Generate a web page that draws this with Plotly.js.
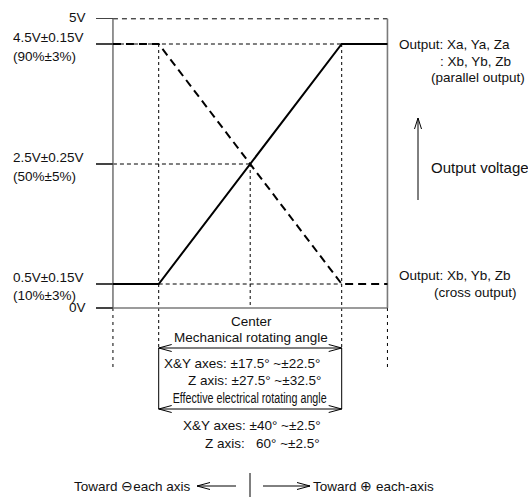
<!DOCTYPE html>
<html><head><meta charset="utf-8">
<script src="https://cdn.plot.ly/plotly-3.0.1.min.js"></script>
<style>html,body{margin:0;padding:0;background:#fff}#chart{width:528px;height:497px}</style>
</head><body><div id="chart"></div>
<script>
// ---- data ----
const angleDeg = [-30, -20, 20, 30];          // schematic angle stops: left limit, knees, right limit
const parallelOut = [0.5, 0.5, 4.5, 4.5];     // Output Xa, Ya, Za (V)
const crossOut = [4.5, 4.5, 0.5, 0.5];        // Output Xb, Yb, Zb cross output (V)
const levelPos = [0.1, 0.5, 2.5, 4.5, 4.92];  // schematic positions of the voltage levels (0V / 5V not to scale)
const levelMain = ['0V', '0.5V±0.15V', '2.5V±0.25V', '4.5V±0.15V', '5V'];
const levelSub = ['', '(10%±3%)', '(50%±5%)', '(90%±3%)', ''];

// ---- layout mapping ----
const W = 528, H = 497, CX = 250.2, KX = 4.575, Y0 = 314, KY = 60;
const xr = [(0 - CX) / KX, (W - CX) / KX];
const yr = [(Y0 - H) / KY, Y0 / KY];
const px = p => (p - CX) / KX;
const py = p => (Y0 - p) / KY;

const FONT = 'Liberation Sans, Arial, Helvetica, sans-serif';
const traces = [];
function seg(xs, ys, color, width, dash) {
  traces.push({x: xs, y: ys, mode: 'lines', hoverinfo: 'skip', showlegend: false,
    line: {color: color, width: width, dash: dash || 'solid'}});
}
function chev(xt, yt, dir, L, Wd) {
  const l = L, w = Wd;
  let xs, ys;
  if (dir === 'left') { xs = [xt + l / KX, xt, xt + l / KX]; ys = [yt + w / KY, yt, yt - w / KY]; }
  else if (dir === 'right') { xs = [xt - l / KX, xt, xt - l / KX]; ys = [yt + w / KY, yt, yt - w / KY]; }
  else { xs = [xt - w / KX, xt, xt + w / KX]; ys = [yt - l / KY, yt, yt - l / KY]; }
  seg(xs, ys, '#000', 1);
}

const xL = angleDeg[0], kL = angleDeg[1], kR = angleDeg[2], xR = angleDeg[3];
const v0 = levelPos[0], vLo = levelPos[1], vMid = levelPos[2], vHi = levelPos[3], v5 = levelPos[4];
const GRAY = '#7a7a7a';

// guide lines
seg([xL, xR], [v5, v5], '#000', 1, '5px,4px');
seg([xL, kR], [vHi, vHi], '#000', 1, '4px,3px');
seg([xL, 0], [vMid, vMid], '#000', 1, '4px,3px');
seg([kL, kR], [vLo, vLo], '#000', 1, '4px,3px');
const yMech = py(348), yElec = py(409), yExt = py(368);
seg([kL, kL], [vHi, yMech], '#000', 1, '3px,3px');
seg([kR, kR], [vHi, yMech], '#000', 1, '3px,3px');
seg([0, 0], [vMid, v0], '#000', 1, '3px,3px');
seg([xL, xL], [v0, yExt], '#000', 1, '3px,4px');
seg([xR, xR], [v0, yExt], '#000', 1, '3px,4px');
// axes frame
seg([xL, xL], [v0, v5], GRAY, 1.6);
seg([xR, xR], [v0, v5], GRAY, 1.6);
seg([xL, xR], [v0, v0], GRAY, 1.6);

// angle box + arrows
seg([kL, kL], [yMech, yElec], '#000', 1);
seg([kR, kR], [yMech, yElec], '#000', 1);
seg([kL, kR], [yMech, yMech], '#000', 1);
seg([kL, kR], [yElec, yElec], '#000', 1);
chev(kL, yMech, 'left', 13, 3.5); chev(kR, yMech, 'right', 13, 3.5);
chev(kL, yElec, 'left', 13, 3.5); chev(kR, yElec, 'right', 13, 3.5);

// output voltage arrow
seg([px(418), px(418)], [py(200), py(118)], '#000', 1);
chev(px(418), py(118), 'up', 11, 3.5);

// bottom direction arrows
const yB = py(486);
seg([px(236), px(197)], [yB, yB], '#000', 1); chev(px(197), yB, 'left', 13, 3.5);
seg([px(263), px(310)], [yB, yB], '#000', 1); chev(px(310), yB, 'right', 13, 3.5);
seg([px(250), px(250)], [py(473), py(497)], '#000', 1);

// output curves
traces.push({x: angleDeg, y: crossOut, mode: 'lines', hoverinfo: 'skip', showlegend: false,
  line: {color: '#000', width: 2, dash: '8px,5px'}});
traces.push({x: angleDeg, y: parallelOut, mode: 'lines', hoverinfo: 'skip', showlegend: false,
  line: {color: '#000', width: 2}});

// ---- text ----
const ann = [];
function txt(t, xp, yp, anchor, size) {
  ann.push({text: t, x: px(xp), y: py(yp), xref: 'x', yref: 'y', showarrow: false,
    xanchor: anchor || 'left', yanchor: 'middle',
    font: {family: FONT, size: size || 13.5, color: '#111'}});
}
// level labels
txt(levelMain[4], 88, 17, 'right');
txt(levelMain[3], 11, 37); txt(levelSub[3], 11, 56);
txt(levelMain[2], 11, 157); txt(levelSub[2], 11, 176);
txt(levelMain[1], 11, 277); txt(levelSub[1], 11, 295);
txt(levelMain[0], 88, 307, 'right');
// right side
txt('Output: Xa, Ya, Za', 397, 44);
txt(': Xb, Yb, Zb', 438, 61);
txt('(parallel output)', 429, 77);
txt('Output voltage', 429, 167, 'left', 15);
txt('Output: Xb, Yb, Zb', 397, 275);
txt('(cross output)', 432, 292);
// below
txt('Center', 251, 321, 'center');
txt('Mechanical rotating angle', 251, 337, 'center');
txt('X&Y axes: ±17.5° ~±22.5°', 162, 363);
txt('Z axis: ±27.5° ~±32.5°', 186, 380);
const EFF = 'Effective electrical rotating angle';
txt(EFF, 250, 398, 'center', 14);
txt('X&Y axes: ±40° ~±2.5°', 181, 425);
txt('Z axis:\u00a0\u00a0 60° ~±2.5°', 203, 443);
txt('Toward \u2296each axis', 193, 486, 'right');
txt('Toward \u2295 each-axis', 311, 486);

const layout = {
  width: W, height: H, margin: {l: 0, r: 0, t: 0, b: 0},
  paper_bgcolor: '#fff', plot_bgcolor: '#fff', showlegend: false,
  xaxis: {range: xr, visible: false, fixedrange: true},
  yaxis: {range: yr, anchor: 'free', position: (CX + KX * xL) / W,
    showline: false, showgrid: false, zeroline: false, ticks: 'outside', ticklen: 17,
    tickwidth: 1.3, tickcolor: '#444', tickvals: levelPos, showticklabels: false, fixedrange: true},
  annotations: ann
};
Plotly.newPlot('chart', traces, layout, {displayModeBar: false, staticPlot: true}).then(function () {
  // condensed look for the small caption, as in the reference
  document.querySelectorAll('#chart text.annotation-text').forEach(function (el) {
    if (el.textContent === EFF) {
      el.setAttribute('textLength', '154');
      el.setAttribute('lengthAdjust', 'spacingAndGlyphs');
    }
  });
});
</script></body></html>
